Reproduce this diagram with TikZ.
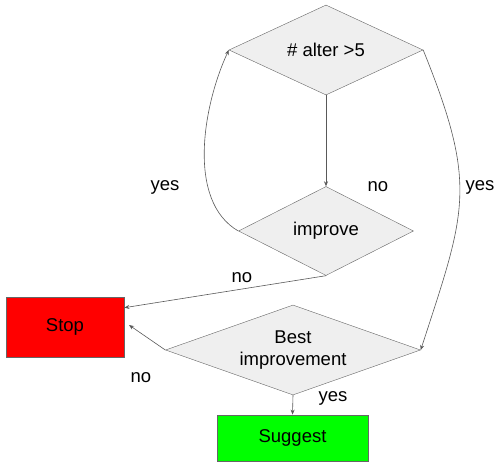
\documentclass[tikz,border=0pt]{standalone}
\usepackage{fontspec}
\setmainfont{Liberation Sans}
\usetikzlibrary{shapes.geometric,arrows.meta}

\definecolor{decfill}{HTML}{EFEFEF}
\definecolor{decline}{HTML}{666666}
\definecolor{flowline}{HTML}{595959}
\definecolor{stopred}{HTML}{FF0000}
\definecolor{gogreen}{HTML}{00FF00}

\begin{document}
\begin{tikzpicture}[x=1pt,y=-1pt]
\tikzset{
  every node/.style={font=\fontsize{18.5}{22}\selectfont, inner sep=0pt},
  decision/.style={diamond, draw=decline, fill=decfill, align=center},
  endbox/.style={rectangle, draw=decline, line width=0.8pt, align=center},
  flow/.style={draw=flowline, line width=0.6pt, -{Stealth[length=5pt,width=4pt]}},
}
\useasboundingbox (0,0) rectangle (496,462);
% decisions
\node [decision, aspect=2.15, minimum width=194pt, minimum height=90pt] (alter) at (326,50) {\# alter >5};
\node [decision, aspect=1.97, minimum width=175pt, minimum height=89pt] (improve) at (326,231) {improve};
\node [decision, aspect=2.83, minimum width=255pt, minimum height=90pt] (best) at (293,350) {Best\\improvement};
% end states
\node [endbox, fill=stopred, minimum width=118pt, minimum height=60pt] (stop) at (65,327) {Stop};
\node [endbox, fill=gogreen, minimum width=151pt, minimum height=46pt] (suggest) at (292.5,438) {Suggest};
\coordinate (stopin) at (129,325);
% connectors
\draw [flow] (alter.south) -- (improve.north);
\draw [flow] (improve.west) to[out=150,in=245,looseness=0.85] (alter.west);
\draw [flow] (alter.east) to[out=-68,in=72,looseness=1.25] (best.east);
\draw [flow] (improve.south) -- (stop.18);
\draw [flow] (best.west) -- (stopin);
\draw [flow] (best.south) -- (suggest.north);
% labels
\node (yesloop) at (165,187) {yes};
\node (nodown) at (378,187) {no};
\node (yesright) at (480,187) {yes};
\node (nostop) at (242,278) {no};
\node (nobest) at (141,378) {no};
\node (yesbest) at (333,398) {yes};
\end{tikzpicture}
\end{document}
